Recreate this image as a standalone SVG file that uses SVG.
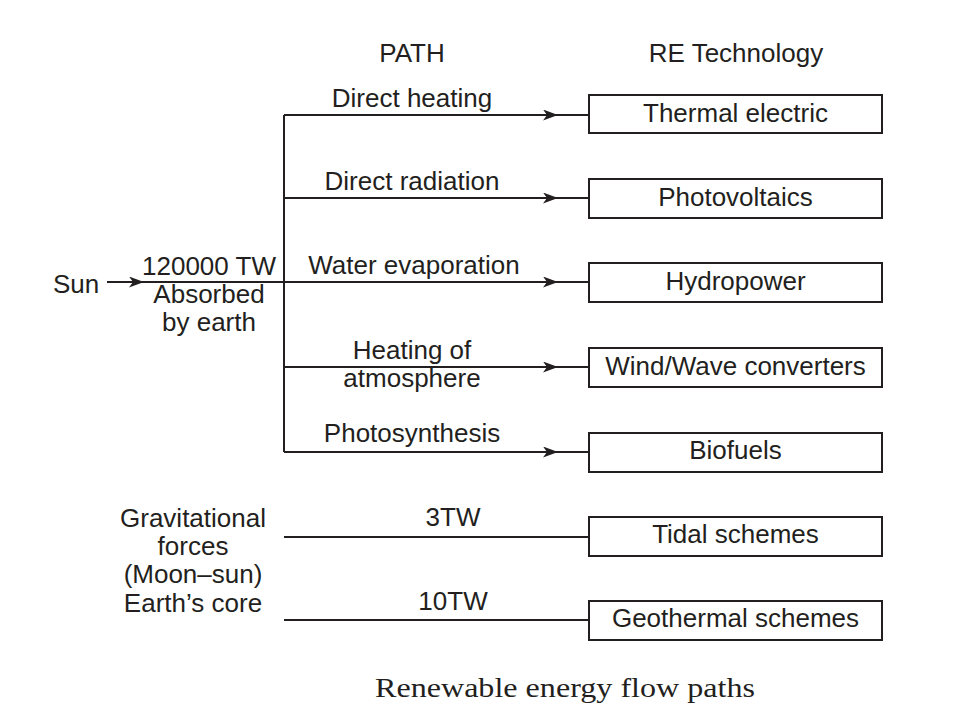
<svg xmlns="http://www.w3.org/2000/svg" width="960" height="720" viewBox="0 0 960 720">
<style>
.t{font-family:"Liberation Sans",Arial,sans-serif;font-size:26px;fill:#231f20;text-anchor:middle}
.l{stroke:#231f20;stroke-width:2;fill:none}
.b{stroke:#231f20;stroke-width:2;fill:#fff}
.cap{font-family:"Liberation Serif","Times New Roman",serif;font-size:27px;fill:#231f20;text-anchor:middle}
</style>
<defs>
<marker id="ah" markerUnits="userSpaceOnUse" viewBox="0 0 15 11" refX="15" refY="5.5" markerWidth="15" markerHeight="11" orient="auto">
<path d="M0,0 L15,5.5 L0,11 L4,5.5 Z" fill="#231f20"/>
</marker>
</defs>
<rect width="960" height="720" fill="#fff"/>
<text class="t" x="412" y="62">PATH</text>
<text class="t" x="736" y="62">RE Technology</text>
<g id="connectors">
<line class="l" x1="107" y1="282" x2="144" y2="282" marker-end="url(#ah)"/>
<line class="l" x1="144" y1="282" x2="284" y2="282"/>
<line class="l" x1="284" y1="115" x2="284" y2="452"/>
<line class="l" x1="284" y1="115" x2="558" y2="115" marker-end="url(#ah)"/>
<line class="l" x1="558" y1="115" x2="589" y2="115"/>
<line class="l" x1="284" y1="198" x2="558" y2="198" marker-end="url(#ah)"/>
<line class="l" x1="558" y1="198" x2="589" y2="198"/>
<line class="l" x1="284" y1="282" x2="558" y2="282" marker-end="url(#ah)"/>
<line class="l" x1="558" y1="282" x2="589" y2="282"/>
<line class="l" x1="284" y1="367" x2="558" y2="367" marker-end="url(#ah)"/>
<line class="l" x1="558" y1="367" x2="589" y2="367"/>
<line class="l" x1="284" y1="452" x2="558" y2="452" marker-end="url(#ah)"/>
<line class="l" x1="558" y1="452" x2="589" y2="452"/>
<line class="l" x1="284" y1="537" x2="589" y2="537"/>
<line class="l" x1="284" y1="620" x2="589" y2="620"/>
<text class="t" x="412" y="107">Direct heating</text>
<text class="t" x="412" y="190">Direct radiation</text>
<text class="t" x="414" y="274">Water evaporation</text>
<text class="t" x="412" y="359">Heating of</text>
<text class="t" x="412" y="387">atmosphere</text>
<text class="t" x="412" y="442">Photosynthesis</text>
<text class="t" x="453" y="526">3TW</text>
<text class="t" x="453" y="610">10TW</text>
</g>
<g id="sun">
<text class="t" x="53" y="293" style="text-anchor:start">Sun</text>
</g>
<g id="absorbed">
<text class="t" x="209" y="275">120000 TW</text>
<text class="t" x="209" y="303">Absorbed</text>
<text class="t" x="209" y="331">by earth</text>
</g>
<g id="gravitational">
<text class="t" x="193" y="527">Gravitational</text>
<text class="t" x="193" y="555">forces</text>
<text class="t" x="193" y="583">(Moon–sun)</text>
</g>
<g id="earthcore">
<text class="t" x="193" y="612">Earth’s core</text>
</g>
<g id="thermal"><rect class="b" x="589" y="95" width="293" height="38"/><text class="t" x="735.5" y="122">Thermal electric</text></g>
<g id="pv"><rect class="b" x="589" y="179" width="293" height="39"/><text class="t" x="735.5" y="206">Photovoltaics</text></g>
<g id="hydro"><rect class="b" x="589" y="263" width="293" height="39"/><text class="t" x="735.5" y="290">Hydropower</text></g>
<g id="wind"><rect class="b" x="589" y="348" width="293" height="39"/><text class="t" x="735.5" y="375">Wind/Wave converters</text></g>
<g id="biofuels"><rect class="b" x="589" y="433" width="293" height="39"/><text class="t" x="735.5" y="459">Biofuels</text></g>
<g id="tidal"><rect class="b" x="589" y="517" width="293" height="39"/><text class="t" x="735.5" y="543">Tidal schemes</text></g>
<g id="geothermal"><rect class="b" x="589" y="601" width="293" height="39"/><text class="t" x="735.5" y="627">Geothermal schemes</text></g>
<text class="cap" x="565" y="697" textLength="380" lengthAdjust="spacingAndGlyphs">Renewable energy flow paths</text>
</svg>
